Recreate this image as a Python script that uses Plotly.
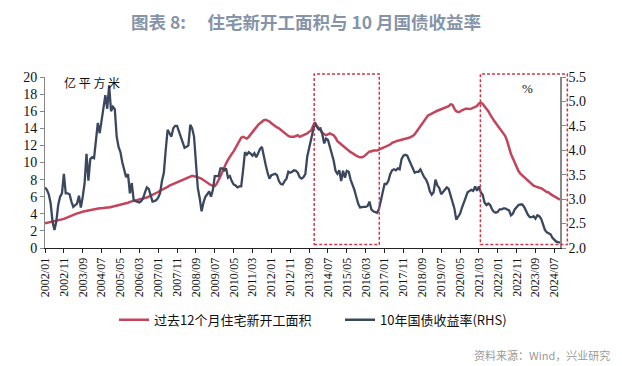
import plotly.graph_objects as go

# ---------------- data ----------------
months = [f"{y}/{m:02d}" for y in range(2002, 2025) for m in range(1, 13)][:274]

# trailing-12-month residential new starts (亿平方米), by year
starts_2002 = [2.9, 2.95, 3.0, 3.05, 3.1, 3.15, 3.2, 3.2, 3.25, 3.3, 3.4, 3.5]
starts_2003 = [3.6, 3.7, 3.8, 3.9, 4.0, 4.05, 4.1, 4.2, 4.25, 4.3, 4.35, 4.4]
starts_2004 = [4.45, 4.5, 4.55, 4.6, 4.6, 4.65, 4.65, 4.7, 4.7, 4.75, 4.75, 4.8]
starts_2005 = [4.85, 4.9, 4.95, 5.0, 5.05, 5.1, 5.15, 5.25, 5.3, 5.4, 5.45, 5.5]
starts_2006 = [5.55, 5.6, 5.7, 5.75, 5.8, 5.85, 5.9, 6.0, 6.1, 6.2, 6.3, 6.4]
starts_2007 = [6.55, 6.7, 6.8, 6.95, 7.0, 7.15, 7.3, 7.4, 7.5, 7.6, 7.7, 7.8]
starts_2008 = [7.9, 8.0, 8.1, 8.2, 8.3, 8.4, 8.45, 8.4, 8.35, 8.3, 8.2, 8.1]
starts_2009 = [7.95, 7.8, 7.6, 7.45, 7.35, 7.3, 7.25, 7.5, 7.9, 8.4, 8.9, 9.5]
starts_2010 = [9.9, 10.3, 10.7, 11.0, 11.3, 11.7, 12.1, 12.5, 12.9, 13.0, 12.9, 12.8]
starts_2011 = [13.0, 13.3, 13.5, 13.8, 14.1, 14.4, 14.6, 14.8, 14.95, 15.0, 14.9, 14.8]
starts_2012 = [14.6, 14.4, 14.3, 14.1, 14.0, 13.8, 13.6, 13.4, 13.2, 13.1, 13.0, 13.0]
starts_2013 = [13.0, 13.1, 13.2, 13.0, 13.1, 13.2, 13.3, 13.4, 13.6, 13.7, 14.2, 14.7]
starts_2014 = [14.3, 14.0, 13.8, 13.5, 13.3, 13.2, 13.3, 13.4, 13.3, 13.2, 12.9, 12.5]
starts_2015 = [12.3, 12.1, 11.9, 11.7, 11.5, 11.3, 11.2, 11.1, 10.9, 10.8, 10.7, 10.6]
starts_2016 = [10.6, 10.7, 10.9, 11.1, 11.3, 11.3, 11.4, 11.4, 11.4, 11.5, 11.6, 11.7]
starts_2017 = [11.8, 11.9, 12.0, 12.1, 12.3, 12.4, 12.5, 12.55, 12.6, 12.65, 12.7, 12.8]
starts_2018 = [12.85, 12.9, 13.0, 13.1, 13.3, 13.6, 13.9, 14.3, 14.6, 14.9, 15.2, 15.5]
starts_2019 = [15.6, 15.75, 15.85, 15.95, 16.05, 16.15, 16.2, 16.3, 16.4, 16.45, 16.6, 16.8]
starts_2020 = [16.75, 16.3, 16.0, 15.9, 15.95, 16.1, 16.2, 16.3, 16.3, 16.25, 16.3, 16.4]
starts_2021 = [16.45, 16.6, 16.9, 17.0, 16.85, 16.6, 16.3, 16.0, 15.6, 15.2, 14.9, 14.6]
starts_2022 = [14.3, 14.0, 13.8, 13.5, 13.1, 12.5, 11.7, 11.0, 10.5, 10.0, 9.4, 9.0]
starts_2023 = [8.7, 8.5, 8.3, 8.0, 7.8, 7.6, 7.45, 7.3, 7.2, 7.1, 7.05, 7.0]
starts_2024 = [6.8, 6.7, 6.55, 6.5, 6.3, 6.15, 6.0, 5.9, 5.75, 5.65]

# 10-year government bond yield (%), by year
cgb_2002 = [3.24, 3.19, 3.10, 2.91, 2.54, 2.37, 2.54, 2.88, 3.05, 3.12, 3.52, 3.12]
cgb_2003 = [3.12, 3.10, 2.95, 2.84, 2.88, 2.91, 3.07, 2.83, 3.05, 3.33, 3.93, 3.38]
cgb_2004 = [3.82, 3.86, 3.84, 4.14, 4.56, 4.35, 4.59, 4.89, 5.13, 4.85, 5.33, 4.80]
cgb_2005 = [4.89, 4.84, 4.28, 4.07, 3.96, 3.75, 3.58, 3.45, 3.51, 3.12, 3.33, 2.98]
cgb_2006 = [2.96, 2.95, 2.93, 2.96, 3.02, 3.14, 3.24, 3.21, 3.09, 2.95, 2.96, 2.98]
cgb_2007 = [3.03, 3.12, 3.37, 3.54, 4.01, 4.42, 4.35, 4.28, 4.45, 4.50, 4.50, 4.38]
cgb_2008 = [4.24, 4.14, 4.05, 4.07, 4.10, 4.52, 4.45, 4.28, 3.84, 3.23, 3.02, 2.75]
cgb_2009 = [2.93, 3.05, 3.10, 3.16, 3.05, 3.19, 3.47, 3.47, 3.47, 3.63, 3.63, 3.59]
cgb_2010 = [3.63, 3.44, 3.47, 3.37, 3.30, 3.28, 3.24, 3.26, 3.26, 3.59, 3.96, 3.91]
cgb_2011 = [3.96, 3.93, 3.89, 3.94, 3.86, 3.94, 4.03, 4.07, 3.84, 3.70, 3.54, 3.42]
cgb_2012 = [3.49, 3.51, 3.52, 3.49, 3.37, 3.31, 3.30, 3.37, 3.42, 3.56, 3.54, 3.56]
cgb_2013 = [3.59, 3.58, 3.54, 3.45, 3.42, 3.45, 3.51, 3.87, 4.05, 4.17, 4.35, 4.56]
cgb_2014 = [4.49, 4.43, 4.45, 4.33, 4.14, 4.24, 4.21, 4.07, 3.93, 3.79, 3.58, 3.52]
cgb_2015 = [3.59, 3.37, 3.58, 3.44, 3.58, 3.56, 3.40, 3.30, 3.19, 3.05, 2.91, 2.83]
cgb_2016 = [2.84, 2.84, 2.84, 2.86, 2.95, 2.79, 2.75, 2.73, 2.72, 2.79, 2.95, 3.09]
cgb_2017 = [3.31, 3.31, 3.37, 3.51, 3.59, 3.61, 3.59, 3.63, 3.61, 3.82, 3.89, 3.91]
cgb_2018 = [3.89, 3.80, 3.70, 3.63, 3.54, 3.56, 3.56, 3.61, 3.52, 3.45, 3.40, 3.31]
cgb_2019 = [3.16, 3.09, 3.14, 3.40, 3.28, 3.23, 3.10, 3.14, 3.19, 3.24, 3.21, 3.09]
cgb_2020 = [2.98, 2.81, 2.58, 2.63, 2.70, 2.82, 2.95, 3.03, 3.14, 3.17, 3.19, 3.17]
cgb_2021 = [3.26, 3.17, 3.26, 3.14, 3.09, 2.93, 2.88, 2.91, 2.88, 2.79, 2.74, 2.72]
cgb_2022 = [2.74, 2.79, 2.79, 2.81, 2.81, 2.79, 2.77, 2.67, 2.70, 2.79, 2.84, 2.88]
cgb_2023 = [2.89, 2.89, 2.84, 2.74, 2.68, 2.63, 2.63, 2.65, 2.60, 2.67, 2.65, 2.60]
cgb_2024 = [2.47, 2.37, 2.32, 2.30, 2.28, 2.21, 2.16, 2.13, 2.12, 2.11]

starts = (starts_2002 + starts_2003 + starts_2004 + starts_2005 + starts_2006 + starts_2007
          + starts_2008 + starts_2009 + starts_2010 + starts_2011 + starts_2012 + starts_2013
          + starts_2014 + starts_2015 + starts_2016 + starts_2017 + starts_2018 + starts_2019
          + starts_2020 + starts_2021 + starts_2022 + starts_2023 + starts_2024)
cgb10y = (cgb_2002 + cgb_2003 + cgb_2004 + cgb_2005 + cgb_2006 + cgb_2007 + cgb_2008
          + cgb_2009 + cgb_2010 + cgb_2011 + cgb_2012 + cgb_2013 + cgb_2014 + cgb_2015
          + cgb_2016 + cgb_2017 + cgb_2018 + cgb_2019 + cgb_2020 + cgb_2021 + cgb_2022
          + cgb_2023 + cgb_2024)

tick_labels = months[::10]
left_ticks = list(range(0, 21, 2))
right_ticks = [2.0, 2.5, 3.0, 3.5, 4.0, 4.5, 5.0, 5.5]

series_names = ["过去12个月住宅新开工面积", "10年国债收益率(RHS)"]
# highlighted periods (fractional month index start, end)
highlight_periods = [(142.7, 177.2), (230.8, 276.9)]

# ---------------- figure ----------------
RED = "#c2455c"
NAVY = "#3a475f"
SERIF = "Liberation Serif, Times New Roman, serif"
CJK = "Noto Sans CJK SC, sans-serif"

fig = go.Figure()
fig.add_trace(go.Scatter(x=months, y=starts, name=series_names[0], mode="lines",
                         line=dict(color=RED, width=2.5), yaxis="y"))
fig.add_trace(go.Scatter(x=months, y=cgb10y, name=series_names[1], mode="lines",
                         line=dict(color=NAVY, width=2.3), yaxis="y2"))

n_last = len(months) - 1
shapes = []
for a, b in highlight_periods:
    shapes.append(dict(type="rect", xref="paper", yref="paper",
                       x0=a / n_last, x1=b / n_last, y0=0.02, y1=1.018,
                       line=dict(color="#d0384a", width=1.5, dash="3px,2px"),
                       fillcolor="rgba(0,0,0,0)", layer="above"))

fig.update_layout(
    width=614, height=358,
    margin=dict(l=37, r=62, t=69, b=118, autoexpand=False),
    paper_bgcolor="white", plot_bgcolor="white",
    showlegend=True,
    legend=dict(orientation="h", x=(114 - 45) / 515, xanchor="left", y=-0.42, yanchor="middle",
                font=dict(family=CJK, size=13, color="#111"),
                entrywidth=181, entrywidthmode="pixels",
                itemwidth=30, tracegroupgap=0, bgcolor="rgba(0,0,0,0)"),
    xaxis=dict(type="category", range=[0, n_last], tickmode="array",
               tickvals=tick_labels, ticktext=tick_labels, tickangle=-90,
               tickfont=dict(family=SERIF, size=12, color="#111"),
               showline=True, linecolor="#222", linewidth=1,
               ticks="outside", ticklen=4, tickcolor="#222",
               showgrid=False, zeroline=False),
    yaxis=dict(range=[0, 20], tickvals=left_ticks,
               tickfont=dict(family=SERIF, size=14, color="#111"),
               showline=True, linecolor="#888", linewidth=1,
               ticks="outside", ticklen=4, tickcolor="#888",
               showgrid=False, zeroline=False),
    yaxis2=dict(range=[2.0, 5.5], tickvals=right_ticks, tickformat=".1f",
                overlaying="y", side="right",
                tickfont=dict(family=SERIF, size=14, color="#111"),
                showline=True, linecolor="#888", linewidth=1.5,
                ticks="outside", ticklen=4, tickcolor="#888",
                showgrid=False, zeroline=False),
    shapes=shapes,
    annotations=[
        dict(text="<b>图表 8:　 住宅新开工面积与 10 月国债收益率</b>", xref="paper", yref="paper",
             x=(306 - 45) / 515, y=(248 - 7) / 171, xanchor="center", yanchor="top",
             showarrow=False, font=dict(family=CJK, size=17.5, color="#8594a8")),
        dict(text="亿 平 方 米", xref="paper", yref="paper",
             x=(62 - 45) / 515, y=(248 - 82) / 171, xanchor="left", yanchor="middle",
             showarrow=False, font=dict(family=CJK, size=12, color="#111")),
        dict(text="%", xref="paper", yref="paper",
             x=(527 - 45) / 515, y=(248 - 88) / 171, xanchor="center", yanchor="middle",
             showarrow=False, font=dict(family=SERIF, size=13, color="#111")),
        dict(text="资料来源：Wind，兴业研究", xref="paper", yref="paper",
             x=(612 - 45) / 515, y=(248 - 355) / 171, xanchor="right", yanchor="middle",
             showarrow=False, font=dict(family=CJK, size=11, color="#9a9a9a")),
    ],
)

fig.write_html("out.html")
